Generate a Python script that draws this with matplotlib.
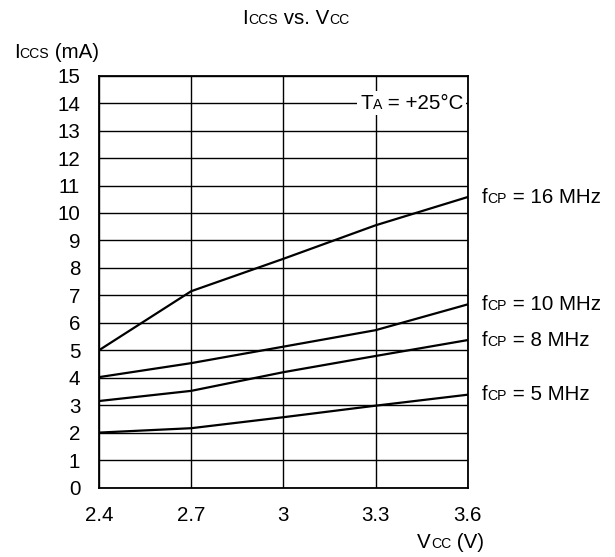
import matplotlib
matplotlib.use("Agg")
import matplotlib.pyplot as plt
from matplotlib.offsetbox import TextArea, HPacker, AnnotationBbox

plt.rcParams['font.family'] = ['Liberation Sans', 'DejaVu Sans']

# Supply voltage (V)
vcc = [2.4, 2.7, 3.0, 3.3, 3.6]

# Supply current (mA) for each charge-pump frequency
icc_16mhz = [5.0, 7.15, 8.33, 9.55, 10.58]
icc_10mhz = [4.02, 4.53, 5.13, 5.73, 6.67]
icc_8mhz = [3.15, 3.52, 4.2, 4.79, 5.37]
icc_5mhz = [2.0, 2.16, 2.56, 2.98, 3.38]

series = [
    (icc_16mhz, "16 MHz"),
    (icc_10mhz, "10 MHz"),
    (icc_8mhz, "8 MHz"),
    (icc_5mhz, "5 MHz"),
]

x_ticks = [2.4, 2.7, 3.0, 3.3, 3.6]
x_tick_labels = ["2.4", "2.7", "3", "3.3", "3.6"]
y_ticks = list(range(0, 16))

FS = 14.8
SMALL = 0.68


def mixed(parts):
    # parts: list of (text, is_small) drawn on a common baseline
    kids = []
    for s, small in parts:
        size = FS * SMALL if small else FS
        kids.append(TextArea(s, textprops=dict(fontsize=size, color='black')))
    return HPacker(children=kids, align='baseline', pad=0, sep=0)


def place(ax, parts, xy, coords, align, offset=(0, 0), white=False):
    box = mixed(parts)
    ab = AnnotationBbox(box, xy, xycoords=coords, xybox=offset,
                        boxcoords='offset points', box_alignment=align,
                        frameon=white, pad=0.2,
                        bboxprops=dict(facecolor='white', edgecolor='none'))
    ab.set_zorder(5)
    ax.add_artist(ab)


fig = plt.figure(figsize=(6.15, 5.57), dpi=100)
ax = fig.add_axes([99 / 615, 1 - 487.5 / 557, 368.7 / 615, 411.8 / 557])

for vals, _ in series:
    ax.plot(vcc, vals, color='black', linewidth=1.6, zorder=3)

ax.set_xlim(2.4, 3.6)
ax.set_ylim(0, 15)
ax.set_xticks(x_ticks)
ax.set_xticklabels(x_tick_labels)
ax.set_yticks(y_ticks)
ax.tick_params(length=0, labelsize=FS, pad=13.5)
ax.grid(True, color='black', linewidth=1.0)
for sp in ax.spines.values():
    sp.set_linewidth(1.3)

# curve labels at the right end
for vals, name in series:
    place(ax, [("f", False), ("CP", True), (" = " + name, False)],
          (3.6, vals[-1]), 'data', (0, 0.5), offset=(10, 0))

# temperature note over the 14 mA grid line
place(ax, [("T", False), ("A", True), (" = +25\u00b0C", False)],
      (3.6, 14), 'data', (1, 0.5), offset=(-3, 0), white=True)

# title and axis labels
place(ax, [("I", False), ("CCS", True), (" vs. V", False), ("CC", True)],
      (296 / 615, 1 - 18 / 557), 'figure fraction', (0.5, 0.5))
place(ax, [("I", False), ("CCS", True), (" (mA)", False)],
      (14 / 615, 1 - 52 / 557), 'figure fraction', (0, 0.5))
place(ax, [("V", False), ("CC", True), (" (V)", False)],
      (484 / 615, 1 - 543 / 557), 'figure fraction', (1, 0.5))

fig.savefig("out.png", dpi=100)
